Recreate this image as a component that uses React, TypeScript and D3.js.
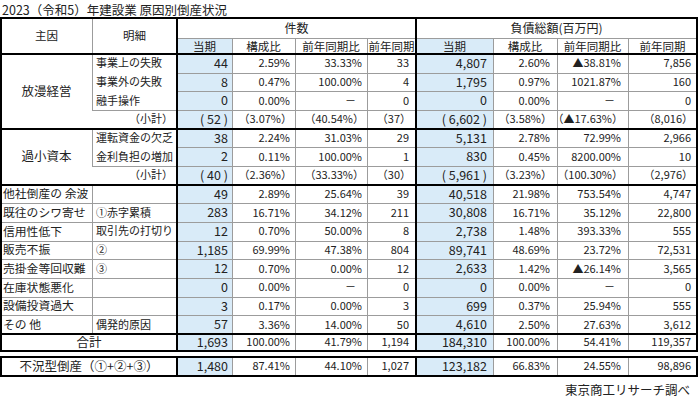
import React from "react";
import * as d3 from "d3";

const title = "2023（令和5）年建設業 原因別倒産状況";
const sourceNote = "東京商工リサーチ調べ";
const headMain = "主因";
const headDetail = "明細";
const groupHeaders = ["件数", "負債総額(百万円)"];
const subHeaders = ["当期", "構成比", "前年同期比", "前年同期"];

const causes = ["放漫経営", "過小資本", "他社倒産の 余波", "既往のシワ寄せ", "信用性低下", "販売不振", "売掛金等回収難", "在庫状態悪化", "設備投資過大", "その 他"];
const causeRowSpans = [4, 3, 1, 1, 1, 1, 1, 1, 1, 1];
const details = ["事業上の失敗", "事業外の失敗", "融手操作", "（小計）", "運転資金の欠乏", "金利負担の増加", "（小計）", "", "①赤字累積", "取引先の打切り", "②", "③", "", "", "偶発的原因"];
const subtotalRows = [3, 6];
const summaryLabels = ["合計", "不況型倒産（①+②+③）"];

const countCurrent = [44, 8, 0, 52, 38, 2, 40, 49, 283, 12, 1185, 12, 0, 3, 57, 1693, 1480];
const countShare = [2.59, 0.47, 0.0, 3.07, 2.24, 0.11, 2.36, 2.89, 16.71, 0.7, 69.99, 0.7, 0.0, 0.17, 3.36, 100.0, 87.41];
const countYoY: (number | null)[] = [33.33, 100.0, null, 40.54, 31.03, 100.0, 33.33, 25.64, 34.12, 50.0, 47.38, 0.0, null, 0.0, 14.0, 41.79, 44.1];
const countPrev = [33, 4, 0, 37, 29, 1, 30, 39, 211, 8, 804, 12, 0, 3, 50, 1194, 1027];
const debtCurrent = [4807, 1795, 0, 6602, 5131, 830, 5961, 40518, 30808, 2738, 89741, 2633, 0, 699, 4610, 184310, 123182];
const debtShare = [2.6, 0.97, 0.0, 3.58, 2.78, 0.45, 3.23, 21.98, 16.71, 1.48, 48.69, 1.42, 0.0, 0.37, 2.5, 100.0, 66.83];
const debtYoY: (number | null)[] = [-38.81, 1021.87, null, -17.63, 72.99, 8200.0, 100.3, 753.54, 35.12, 393.33, 23.72, -26.14, null, 25.94, 27.63, 54.41, 24.55];
const debtPrev = [7856, 160, 0, 8016, 2966, 10, 2976, 4747, 22800, 555, 72531, 3565, 0, 555, 3612, 119357, 98896];

// ---- layout ----
const W = 700;
const H = 406;
const FONT = "'Noto Sans CJK JP', 'Noto Sans', sans-serif";
const colEdges = [1, 92, 177, 232, 295, 367, 416, 493, 557, 628, 697];
const TOP = 18;
const HEAD_MID = 38;
const BODY_TOP = 54;
const BODY_BOTTOM = 334;
const TOTAL_BOTTOM = 351;
const REC_TOP = 357;
const REC_BOTTOM = 376;
const NBODY = 15;
const BLUE = "#d9ebf8";
const GRAY = "#9c9c9c";
const INK = "#222";

const yScale = d3.scaleLinear().domain([0, NBODY]).range([BODY_TOP, BODY_BOTTOM]);
const rowTop = (i: number) => (i < NBODY ? yScale(i) : i === NBODY ? BODY_BOTTOM : REC_TOP);
const rowBot = (i: number) => (i < NBODY ? yScale(i + 1) : i === NBODY ? TOTAL_BOTTOM : REC_BOTTOM);
const rowMid = (i: number) => (rowTop(i) + rowBot(i)) / 2;

const fmtInt = d3.format(",");
const fmt2 = d3.format(".2f");
const fmtPct = (v: number | null) => (v === null ? "－" : (v < 0 ? "▲" : "") + fmt2(Math.abs(v)) + "%");

export default function App() {
  const nRows = countCurrent.length;
  const isSub = (i: number) => subtotalRows.includes(i);

  const columns = [
    { vals: countCurrent.map((v) => fmtInt(v)), cur: true, pad: 4 },
    { vals: countShare.map(fmtPct), cur: false, pad: 5 },
    { vals: countYoY.map(fmtPct), cur: false, pad: 5 },
    { vals: countPrev.map((v) => fmtInt(v)), cur: false, pad: 7 },
    { vals: debtCurrent.map((v) => fmtInt(v)), cur: true, pad: 6 },
    { vals: debtShare.map(fmtPct), cur: false, pad: 7 },
    { vals: debtYoY.map(fmtPct), cur: false, pad: 7 },
    { vals: debtPrev.map((v) => fmtInt(v)), cur: false, pad: 6 },
  ];

  const lines: JSX.Element[] = [];
  let k = 0;
  const hl = (y: number, x1: number, x2: number, thick: boolean) =>
    lines.push(<line key={"l" + k++} x1={x1} x2={x2} y1={y} y2={y} stroke={thick ? "#000" : GRAY} strokeWidth={thick ? 2 : 1} />);
  const vl = (x: number, y1: number, y2: number, thick: boolean) =>
    lines.push(<line key={"l" + k++} x1={x} x2={x} y1={y1} y2={y2} stroke={thick ? "#000" : GRAY} strokeWidth={thick ? 2 : 1} />);

  const L = colEdges[0];
  const R = colEdges[colEdges.length - 1];
  for (let i = 1; i < NBODY; i++) {
    const y = Math.round(yScale(i)) + 0.5;
    if (isSub(i - 1)) continue;
    if (isSub(i)) hl(y, colEdges[1], R, false);
    else if (i < 7) hl(y, colEdges[2], R, false);
    else hl(y, L, R, false);
  }
  [3, 4, 5, 7, 8, 9].forEach((c) => {
    vl(colEdges[c] + 0.5, HEAD_MID, TOTAL_BOTTOM, false);
    vl(colEdges[c] + 0.5, REC_TOP, REC_BOTTOM, false);
  });
  hl(HEAD_MID + 0.5, colEdges[2], R, false);
  vl(colEdges[1] + 0.5, TOP, yScale(3), false);
  vl(colEdges[1] + 0.5, yScale(4), yScale(6), false);
  vl(colEdges[1] + 0.5, yScale(7), BODY_BOTTOM, false);
  [TOP, BODY_TOP, yScale(4), yScale(7), BODY_BOTTOM, TOTAL_BOTTOM, REC_TOP, REC_BOTTOM].forEach((y) => hl(Math.round(y), L - 1, R + 1, true));
  [L, colEdges[2], colEdges[6], R].forEach((x) => {
    vl(x, TOP, TOTAL_BOTTOM, true);
    vl(x, REC_TOP, REC_BOTTOM, true);
  });

  const causeTexts: JSX.Element[] = [];
  let r = 0;
  causes.forEach((c, gi) => {
    const span = causeRowSpans[gi];
    if (span > 1) {
      const y = (rowTop(r) + rowBot(r + span - 1)) / 2;
      causeTexts.push(
        <text key={"c" + gi} x={(colEdges[0] + colEdges[1]) / 2} y={y} dy="0.36em" textAnchor="middle" fontSize={12.5}>
          {c}
        </text>
      );
    } else {
      causeTexts.push(
        <text key={"c" + gi} x={3} y={rowMid(r)} dy="0.36em" fontSize={11.8}>
          {c}
        </text>
      );
    }
    r += span;
  });

  return (
    <svg width={W} height={H} style={{ position: "absolute", left: 0, top: 0, background: "#fff", fontFamily: FONT }} fontFamily={FONT} fill={INK}>
      <rect x={0} y={0} width={W} height={H} fill="#fff" />
      {[2, 6].map((c) => (
        <g key={"b" + c}>
          <rect x={colEdges[c]} y={HEAD_MID} width={colEdges[c + 1] - colEdges[c]} height={TOTAL_BOTTOM - HEAD_MID} fill={BLUE} />
          <rect x={colEdges[c]} y={REC_TOP} width={colEdges[c + 1] - colEdges[c]} height={REC_BOTTOM - REC_TOP} fill={BLUE} />
        </g>
      ))}
      <text x={2} y={15} fontSize={12.5} fontFamily={FONT}>{title}</text>

      <text x={(colEdges[0] + colEdges[1]) / 2} y={(TOP + BODY_TOP) / 2} dy="0.36em" textAnchor="middle" fontSize={11.5}>{headMain}</text>
      <text x={(colEdges[1] + colEdges[2]) / 2} y={(TOP + BODY_TOP) / 2} dy="0.36em" textAnchor="middle" fontSize={11.5}>{headDetail}</text>
      {groupHeaders.map((g, gi) => (
        <text key={g} x={(colEdges[2 + gi * 4] + colEdges[6 + gi * 4]) / 2} y={(TOP + HEAD_MID) / 2 + 1} dy="0.36em" textAnchor="middle" fontSize={12}>
          {g}
        </text>
      ))}
      {[0, 1].flatMap((gi) =>
        subHeaders.map((s, si) => {
          const c = 2 + gi * 4 + si;
          return (
            <text key={gi + s} x={(colEdges[c] + colEdges[c + 1]) / 2} y={(HEAD_MID + BODY_TOP) / 2 + 1} dy="0.36em" textAnchor="middle" fontSize={11.5}>
              {s}
            </text>
          );
        })
      )}

      {causeTexts}
      {details.map((d, i) =>
        d === "" ? null : isSub(i) ? (
          <text key={"d" + i} x={colEdges[2] - 4} y={rowMid(i)} dy="0.36em" textAnchor="end" fontSize={11}>{d}</text>
        ) : (
          <text key={"d" + i} x={colEdges[1] + 4} y={rowMid(i)} dy="0.36em" fontSize={11}>{d}</text>
        )
      )}
      {summaryLabels.map((s, si) => (
        <text key={s} x={(colEdges[0] + colEdges[2]) / 2} y={rowMid(NBODY + si)} dy="0.36em" textAnchor="middle" fontSize={12.5}>{s}</text>
      ))}

      {columns.map((col, ci) =>
        d3.range(nRows).map((i) => {
          const raw = col.vals[i];
          const sub = isSub(i);
          const txt = sub ? (col.cur ? `( ${raw} )` : `（${raw}）`) : raw;
          const dash = raw === "－";
          const xr = colEdges[2 + ci + 1] - col.pad - (dash ? 6 : 0) - (sub && !col.cur ? -2 : 0);
          return (
            <text key={ci + "-" + i} x={xr} y={rowMid(i)} dy="0.36em" textAnchor="end" fontSize={col.cur ? 12.5 : 11}>
              {txt}
            </text>
          );
        })
      )}

      {lines}
      <text x={690} y={390} dy="0.36em" textAnchor="end" fontSize={12.5}>{sourceNote}</text>
    </svg>
  );
}
